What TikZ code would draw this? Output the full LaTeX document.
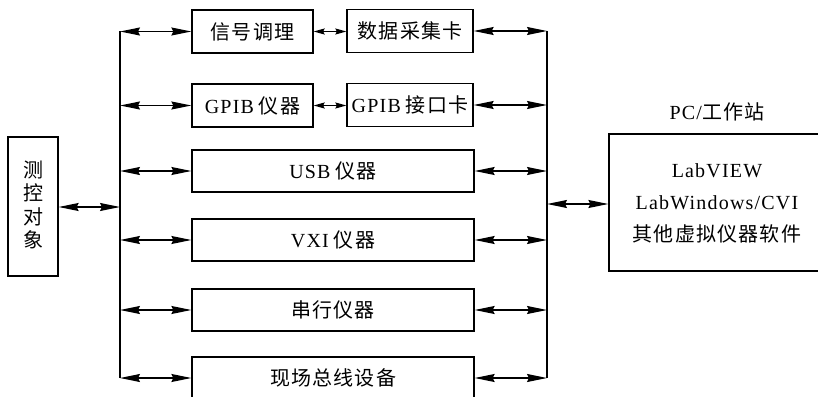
\documentclass[tikz,border=0pt]{standalone}
\usepackage{fontspec}
\setmainfont{Liberation Serif}[LetterSpace=6]
\newfontfamily\cjk{Noto Sans CJK SC}[LetterSpace=6]
\usetikzlibrary{arrows.meta}
\tikzset{
  box/.style={draw, line width=1.3pt, rectangle, inner sep=0pt, font=\fontsize{20}{24}\selectfont},
  bus/.style={line width=1.3pt},
  biarrow/.style={line width=1.3pt, {Stealth[length=20pt,width=8pt,inset=2pt]}-{Stealth[length=20pt,width=8pt,inset=2pt]}},
  shortarrow/.style={line width=1.3pt, {Stealth[length=11pt,width=6pt,inset=1.5pt]}-{Stealth[length=11pt,width=6pt,inset=1.5pt]}},
  lbl/.style={font=\fontsize{20}{24}\selectfont, inner sep=0pt}
}
\begin{document}
\begin{tikzpicture}[x=1pt,y=-1pt]
\useasboundingbox (0,0) rectangle (818,396);
\clip (0,0) rectangle (818,396);
% boxes
\node[box, minimum width=121pt, minimum height=43pt] (sig) at (252.5,31.5) {\cjk 信号调理};
\node[box, minimum width=126pt, minimum height=43pt] (daq) at (410,31) {\cjk 数据采集卡};
\node[box, minimum width=121pt, minimum height=43pt] (gpib) at (252.5,105.5) {GPIB\hspace{5pt}{\cjk 仪器}};
\node[box, minimum width=126pt, minimum height=43pt] (gpibc) at (410,105) {GPIB\hspace{5pt}{\cjk 接口卡}};
\node[box, minimum width=282pt, minimum height=42pt] (usb) at (333,171) {USB\hspace{5pt}{\cjk 仪器}};
\node[box, minimum width=282pt, minimum height=42pt] (vxi) at (333,240) {VXI\hspace{5pt}{\cjk 仪器}};
\node[box, minimum width=282pt, minimum height=42pt] (ser) at (333,310) {\cjk 串行仪器};
\node[box, minimum width=282pt, minimum height=42pt] (fb) at (333,378) {\cjk 现场总线设备};
\node[box, minimum width=50pt, minimum height=139pt] (obj) at (33,206.5) {};
\node[lbl, align=center, font=\fontsize{20}{23.5}\selectfont\cjk] (objt) at (33,205) {测\\控\\对\\象};
\node[box, minimum width=221pt, minimum height=137pt] (pc) at (719.5,202.5) {};
\node[lbl] (pct) at (717,112) {PC/{\cjk 工作站}};
\node[lbl, align=center, font=\fontsize{20}{32}\selectfont] (pcsw) at (717,203) {LabVIEW\\LabWindows/CVI\\{\cjk 其他虚拟仪器软件}};
% buses
\coordinate (lt) at (120,31.5);
\coordinate (lb) at (120,378);
\coordinate (rt) at (547,31);
\coordinate (rb) at (547,378);
\draw[bus] (lt) -- (lb);
\draw[bus] (rt) -- (rb);
% left arrows
\draw[biarrow] (sig.west -| lt) -- (sig.west);
\draw[biarrow] (gpib.west -| lt) -- (gpib.west);
\draw[biarrow] (usb.west -| lt) -- (usb.west);
\draw[biarrow] (vxi.west -| lt) -- (vxi.west);
\draw[biarrow] (ser.west -| lt) -- (ser.west);
\draw[biarrow] (fb.west -| lt) -- (fb.west);
% right arrows
\draw[biarrow] (daq.east) -- (daq.east -| rt);
\draw[biarrow] (gpibc.east) -- (gpibc.east -| rt);
\draw[biarrow] (usb.east) -- (usb.east -| rt);
\draw[biarrow] (vxi.east) -- (vxi.east -| rt);
\draw[biarrow] (ser.east) -- (ser.east -| rt);
\draw[biarrow] (fb.east) -- (fb.east -| rt);
% middle short arrows
\draw[shortarrow] (sig.east) -- (sig.east -| daq.west);
\draw[shortarrow] (gpib.east) -- (gpib.east -| gpibc.west);
% object and pc
\draw[biarrow] (obj.east |- 0,207) -- (obj.east |- 0,207 -| lt);
\draw[biarrow] (pc.west |- 0,204 -| rt) -- (pc.west |- 0,204);
\end{tikzpicture}
\end{document}
